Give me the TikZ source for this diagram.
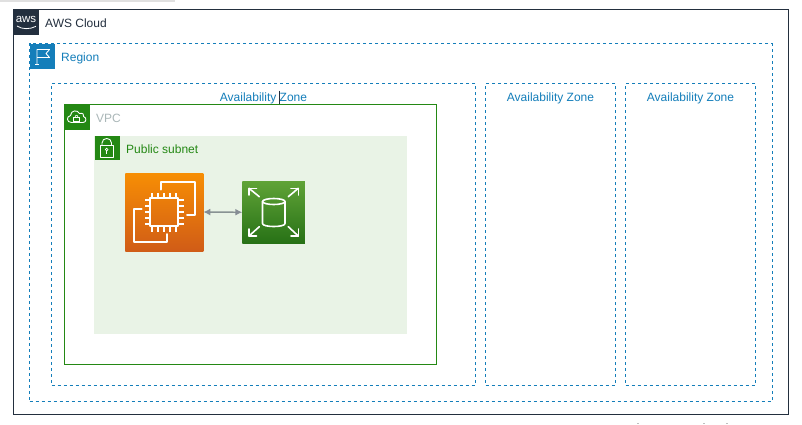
\documentclass[tikz,border=0pt]{standalone}
\usepackage{fontspec}
\usetikzlibrary{arrows.meta}
\setmainfont{Liberation Sans}
\definecolor{awsdark}{HTML}{232F3E}
\definecolor{regionblue}{HTML}{147EBA}
\definecolor{vpcgreen}{HTML}{248814}
\definecolor{vpcgrey}{HTML}{AAB7B8}
\definecolor{subnetfill}{HTML}{E9F3E6}
\definecolor{ectop}{HTML}{F78E04}
\definecolor{ecbot}{HTML}{D05C17}
\definecolor{voltop}{HTML}{60A337}
\definecolor{volbot}{HTML}{277116}
\tikzset{
  x=1pt,y=-1pt,
  box/.style={rectangle,inner sep=0pt,outer sep=0pt,anchor=north west},
  dashbox/.style={box,draw=regionblue,line width=1pt,dash pattern=on 3pt off 3pt},
  squareicon/.style={box,minimum width=24pt,minimum height=24pt},
  grouplabel/.style={inner sep=0pt,anchor=base west,font=\fontsize{12}{14}\selectfont},
  azlabel/.style={inner sep=0pt,anchor=base,text=regionblue,font=\fontsize{12}{14}\selectfont},
  glyph/.style={draw=white,line width=0.9pt,line join=round,fill=none},
  glyphbold/.style={draw=white,line width=2pt,line join=round,line cap=round,fill=none},
  glyphmid/.style={draw=white,line width=1.6pt,line join=round,line cap=round,fill=none},
}
\begin{document}
\begin{tikzpicture}
\useasboundingbox (0,0) rectangle (802,424);
\fill[white] (0,0) rectangle (802,424);
% faint remnants at the edges of the screenshot
\fill[black!12] (0,0) rectangle (175,1.5);
\foreach \mx in {637,703,726} \fill[black!25] (\mx,422.5) rectangle (\mx+2,424);

% AWS Cloud
\node[box,draw=awsdark,line width=1pt,minimum width=774.5pt,minimum height=405pt] (cloud) at (13.5,9.5) {};
\node[squareicon,fill=awsdark,minimum width=25pt,minimum height=25pt] (awsicon) at (13.5,9.5) {};
\node[inner sep=0pt,text=white,font=\fontsize{11.5}{12}\selectfont] (awsword) at (26,19.5) {aws};
\draw[white,line width=0.8pt] (17,26) .. controls (22,29.5) and (30,29.5) .. (36,26.3);
\node[grouplabel,text=awsdark] (cloudlabel) at (45,27) {AWS Cloud};

% Region
\node[dashbox,minimum width=742.5pt,minimum height=357.5pt] (region) at (29.5,43.5) {};
\node[squareicon,fill=regionblue,minimum width=25pt,minimum height=25pt] (regionicon) at (29.5,43.5) {};
\draw[glyph] (37,64.5) -- (37,49.5) -- (49.5,49.5) -- (46,53.5) -- (49.5,57.5) -- (37,57.5);
\draw[glyph] (35,64.5) -- (39,64.5);
\node[grouplabel,text=regionblue] (regionlabel) at (61,61) {Region};

% Availability zones
\node[dashbox,minimum width=424pt,minimum height=301.5pt] (az1) at (51.5,83.5) {};
\node[dashbox,minimum width=130pt,minimum height=301.5pt] (az2) at (485.5,83.5) {};
\node[dashbox,minimum width=130pt,minimum height=301.5pt] (az3) at (625.5,83.5) {};
\node[azlabel] (az1label) at (263.5,101) {Availability Zone};
\node[azlabel] (az2label) at (550.5,101) {Availability Zone};
\node[azlabel] (az3label) at (690.5,101) {Availability Zone};
\draw[awsdark,line width=0.8pt] (279.5,90.5) -- (279.5,104);

% VPC
\node[box,draw=vpcgreen,line width=1pt,minimum width=372pt,minimum height=260pt] (vpc) at (64.5,104.5) {};
\node[squareicon,fill=vpcgreen,minimum width=25pt,minimum height=25pt] (vpcicon) at (64.5,104.5) {};
\draw[glyph] (71.5,122.5) .. controls (66.5,122.5) and (66,116.5) .. (70.5,115.5)
  .. controls (71,110) and (77.5,109.5) .. (79.5,113.5)
  .. controls (83,112.5) and (84.5,115) .. (83.5,116.5)
  .. controls (87,117.5) and (86.5,122.5) .. (83,122.5) -- cycle;
\draw[white,line width=0.7pt] (73.5,117.5) rectangle (79.5,121);
\draw[white,line width=0.6pt] (75,117.5) .. controls (75,114.5) and (78,114.5) .. (78,117.5);
\node[grouplabel,text=vpcgrey] (vpclabel) at (96,122) {VPC};

% Public subnet
\node[box,fill=subnetfill,minimum width=312.5pt,minimum height=198pt] (subnet) at (94,135.5) {};
\node[squareicon,fill=vpcgreen,minimum width=25pt,minimum height=24.5pt] (subneticon) at (94.5,135.5) {};
\draw[glyph] (100.5,145.5) rectangle (113,157);
\draw[glyph] (102,145.5) -- (102,143) .. controls (102,137) and (111.5,137) .. (111.5,143) -- (111.5,145.5);
\draw[white,line width=0.7pt] (106.7,149.5) circle[radius=1.3];
\draw[white,line width=0.7pt] (106.7,150.8) -- (106.7,154);
\node[grouplabel,text=vpcgreen] (subnetlabel) at (126,153) {Public subnet};

% EC2 icon
\node[box,top color=ectop,bottom color=ecbot,minimum width=78pt,minimum height=78pt] (ec2) at (125.3,173) {};
\draw[glyphbold] (161,189.5) -- (161,182) -- (195,182) -- (195,214.7) -- (187,214.7);
\draw[glyphbold] (141.7,209) -- (134,209) -- (134,242) -- (167.3,242) -- (167.3,234);
\draw[glyphbold] (150,198) rectangle (178,226);
\foreach \pp in {-2,-1,0,1,2}{
  \draw[glyphbold,line cap=butt] (164+5.8*\pp,198) -- (164+5.8*\pp,192.5);
  \draw[glyphbold,line cap=butt] (164+5.8*\pp,226) -- (164+5.8*\pp,231.5);
  \draw[glyphbold,line cap=butt] (150,212+5.8*\pp) -- (144.5,212+5.8*\pp);
  \draw[glyphbold,line cap=butt] (178,212+5.8*\pp) -- (183.5,212+5.8*\pp);
}

% Volume icon
\node[box,top color=voltop,bottom color=volbot,minimum width=62.5pt,minimum height=62.5pt] (vol) at (242.3,181) {};
\draw[glyphmid] (262.5,201.5) -- (262.5,223.5)
  .. controls (262.5,227.5) and (285,227.5) .. (285,223.5) -- (285,201.5);
\draw[glyphmid] (273.75,201.5) ellipse[x radius=11.25,y radius=3];
\draw[glyphmid] (259.3,196.7) -- (249,188.3);
\draw[glyphmid] (288.3,196.7) -- (298.3,188.3);
\draw[glyphmid] (259.3,226.7) -- (249,236);
\draw[glyphmid] (288.3,226.7) -- (298.3,236);
\draw[glyphmid] (249,195) -- (249,188.3) -- (256.5,188.3);
\draw[glyphmid] (291,188.3) -- (298.3,188.3) -- (298.3,195);
\draw[glyphmid] (249,229) -- (249,236) -- (256.5,236);
\draw[glyphmid] (291,236) -- (298.3,236) -- (298.3,229);

% Connector
\draw[draw=vpcgrey!80!black,line width=1.4pt,{Latex[length=7pt,width=7pt,color=awsdark!55]}-{Latex[length=7pt,width=7pt,color=awsdark!55]}] (ec2.east) -- (vol.west);
\end{tikzpicture}
\end{document}
